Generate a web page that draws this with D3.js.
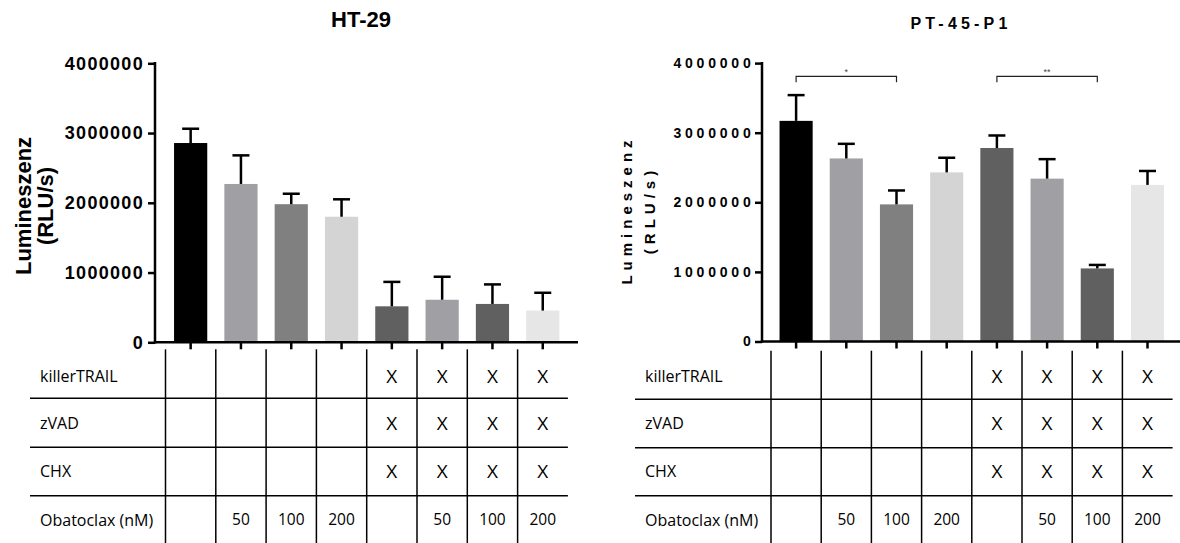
<!DOCTYPE html>
<html>
<head>
<meta charset="utf-8">
<script src="https://cdn.jsdelivr.net/npm/d3@7"></script>
<style>
  html, body { margin: 0; padding: 0; background: #fff; }
  svg { display: block; }
</style>
</head>
<body>
<svg id="chart" width="1180" height="543"></svg>
<script>
// ---------- data ----------
const categories = ["Kontrolle", "Obatoclax 50", "Obatoclax 100", "Obatoclax 200",
  "kTRAIL+zVAD+CHX", "kTRAIL+zVAD+CHX+Obatoclax 50", "kTRAIL+zVAD+CHX+Obatoclax 100", "kTRAIL+zVAD+CHX+Obatoclax 200"];
const barColors = ["#000000", "#a0a0a4", "#808080", "#d4d4d4", "#606060", "#a0a0a4", "#606060", "#e6e6e6"];

const ht29Means  = [2857000, 2270000, 1980000, 1800000, 516000, 610000, 550000, 455000];
const ht29Errors = [205000, 410000, 150000, 250000, 350000, 330000, 280000, 255000];

const ptMeans  = [3170000, 2630000, 1970000, 2430000, 2780000, 2340000, 1050000, 2250000];
const ptErrors = [370000, 210000, 200000, 210000, 180000, 280000, 50000, 200000];

const yTicks = [0, 1000000, 2000000, 3000000, 4000000];

const ptBrackets = [
  { from: 0, to: 2, label: "*",  level: 3810000 },
  { from: 4, to: 6, label: "**", level: 3810000 }
];

const rowLabels = ["killerTRAIL", "zVAD", "CHX", "Obatoclax (nM)"];
const killerTRAIL = [0, 0, 0, 0, 1, 1, 1, 1];
const zVAD        = [0, 0, 0, 0, 1, 1, 1, 1];
const CHX         = [0, 0, 0, 0, 1, 1, 1, 1];
const obatoclax   = ["", "50", "100", "200", "", "50", "100", "200"];

// ---------- layout ----------
const panels = [
  {
    title: "HT-29", means: ht29Means, errors: ht29Errors, brackets: [],
    axisX: 155, y0: 342.3, yTop: 63.3, colL: 165.5, colR: 567.9, axisEnd: 578,
    tableL: 30, tableTop: 349.3, rowSeps: [398.3, 447.3, 495.7], rowText: [376, 423, 471, 520],
    titleX: 361, titleY: 27, titleSize: 22, titleSpacing: 0,
    tickSize: 18, tickSpacing: 1.3, tickDx: 0,
    yTitleSize: 22, yTitleSpacing: 0, yTitleX1: 31, yTitleX2: 53, yTitleY: 206
  },
  {
    title: "PT-45-P1", means: ptMeans, errors: ptErrors, brackets: ptBrackets,
    axisX: 762, y0: 341.5, yTop: 63.1, colL: 771, colR: 1172.6, axisEnd: 1180,
    tableL: 635, tableTop: 350.7, rowSeps: [399.3, 447.7, 495.7], rowText: [376, 423, 471, 520],
    titleX: 961, titleY: 29, titleSize: 16, titleSpacing: 4.2,
    tickSize: 14, tickSpacing: 3.8, tickDx: 3.5,
    yTitleSize: 15, yTitleSpacing: 5, yTitleX1: 632, yTitleX2: 655, yTitleY: 210
  }
];

const svg = d3.select("#chart");
const boldFont = "'Liberation Sans', Arial, Helvetica, sans-serif";
const tableFont = "'Open Sans', 'Noto Sans', sans-serif";

panels.forEach(p => {
  const g = svg.append("g");
  const y = d3.scaleLinear().domain([0, 4000000]).range([p.y0, p.yTop]);
  const cols = d3.scaleBand().domain(d3.range(categories.length)).range([p.colL, p.colR]).padding(0);
  const x = d3.scaleBand().domain(d3.range(categories.length)).range([p.colL, p.colR])
    .paddingInner(0.34).paddingOuter(0.17);

  // title
  g.append("text")
    .attr("x", p.titleX).attr("y", p.titleY)
    .attr("text-anchor", "middle")
    .style("font-family", boldFont).style("font-weight", "bold")
    .style("font-size", p.titleSize + "px")
    .style("letter-spacing", p.titleSpacing + "px")
    .text(p.title);

  // bars
  g.selectAll("rect.bar").data(p.means).join("rect")
    .attr("class", "bar")
    .attr("x", (d, i) => x(i))
    .attr("width", x.bandwidth())
    .attr("y", d => y(d))
    .attr("height", d => y(0) - y(d))
    .attr("fill", (d, i) => barColors[i]);

  // error bars
  const eb = g.selectAll("g.err").data(p.means).join("g").attr("class", "err");
  eb.append("line")
    .attr("x1", (d, i) => x(i) + x.bandwidth() / 2)
    .attr("x2", (d, i) => x(i) + x.bandwidth() / 2)
    .attr("y1", d => y(d))
    .attr("y2", (d, i) => y(d + p.errors[i]))
    .attr("stroke", "#000").attr("stroke-width", 2.5);
  eb.append("line")
    .attr("x1", (d, i) => x(i) + x.bandwidth() / 2 - 8.5)
    .attr("x2", (d, i) => x(i) + x.bandwidth() / 2 + 8.5)
    .attr("y1", (d, i) => y(d + p.errors[i]))
    .attr("y2", (d, i) => y(d + p.errors[i]))
    .attr("stroke", "#000").attr("stroke-width", 2.5);

  // y axis
  const yAxis = d3.axisLeft(y).tickValues(yTicks).tickFormat(d3.format("d")).tickSize(7).tickPadding(4);
  const ya = g.append("g").attr("transform", `translate(${p.axisX},0)`).call(yAxis);
  ya.select(".domain").attr("stroke", "#000").attr("stroke-width", 2.5)
    .attr("d", `M0,${p.y0 + 1.2}V${p.yTop - 1.2}`);
  ya.selectAll(".tick line").attr("stroke", "#000").attr("stroke-width", 2.5);
  ya.selectAll(".tick text")
    .attr("dx", p.tickDx)
    .style("font-family", boldFont).style("font-weight", "bold")
    .style("font-size", p.tickSize + "px")
    .style("letter-spacing", p.tickSpacing + "px")
    .attr("fill", "#000");

  // x axis
  const xAxis = d3.axisBottom(x).tickSize(7).tickFormat("");
  const xa = g.append("g").attr("transform", `translate(0,${p.y0})`).call(xAxis);
  xa.select(".domain").attr("stroke", "#000").attr("stroke-width", 2.5)
    .attr("d", `M${p.axisX - 1.2},0H${p.axisEnd}`);
  xa.selectAll(".tick line").attr("stroke", "#000").attr("stroke-width", 2.5);

  // y title
  const yt = g.append("g").style("font-family", boldFont).style("font-weight", "bold")
    .style("font-size", p.yTitleSize + "px").style("letter-spacing", p.yTitleSpacing + "px");
  yt.append("text").attr("transform", `translate(${p.yTitleX1},${p.yTitleY}) rotate(-90)`)
    .attr("text-anchor", "middle").text("Lumineszenz");
  yt.append("text").attr("transform", `translate(${p.yTitleX2},${p.yTitleY}) rotate(-90)`)
    .attr("text-anchor", "middle").text("(RLU/s)");

  // significance brackets
  p.brackets.forEach(b => {
    const xa1 = x(b.from) + x.bandwidth() / 2, xb1 = x(b.to) + x.bandwidth() / 2;
    const yb = y(b.level);
    g.append("path")
      .attr("d", `M${xa1},${yb + 6}V${yb}H${xb1}V${yb + 6}`)
      .attr("fill", "none").attr("stroke", "#222").attr("stroke-width", 1.2);
    g.append("text").attr("x", (xa1 + xb1) / 2).attr("y", yb - 1)
      .attr("text-anchor", "middle")
      .style("font-family", boldFont).style("font-size", "9px").attr("fill", "#444")
      .text(b.label);
  });

  // table
  const tg = g.append("g");
  const tableBottom = 543;
  cols.domain().forEach(i => {
    tg.append("line").attr("x1", cols(i)).attr("x2", cols(i))
      .attr("y1", p.tableTop).attr("y2", tableBottom)
      .attr("stroke", "#000").attr("stroke-width", 1.5);
  });
  p.rowSeps.forEach(s => {
    tg.append("line").attr("x1", p.tableL).attr("x2", p.colR)
      .attr("y1", s).attr("y2", s)
      .attr("stroke", "#000").attr("stroke-width", 1.5);
  });
  tg.selectAll("text.rowlab").data(rowLabels).join("text").attr("class", "rowlab")
    .attr("x", p.tableL + 10).attr("y", (d, i) => p.rowText[i])
    .attr("dy", "0.35em")
    .style("font-family", tableFont).style("font-size", "16px")
    .text(d => d);
  const marks = [killerTRAIL, zVAD, CHX];
  marks.forEach((arr, r) => {
    tg.selectAll(null).data(arr).join("text")
      .attr("x", (d, i) => cols(i) + cols.bandwidth() / 2)
      .attr("y", p.rowText[r]).attr("dy", "0.36em")
      .attr("text-anchor", "middle")
      .style("font-family", tableFont).style("font-size", "19px")
      .text(d => d ? "X" : "");
  });
  tg.selectAll(null).data(obatoclax).join("text")
    .attr("x", (d, i) => cols(i) + cols.bandwidth() / 2)
    .attr("y", p.rowText[3]).attr("dy", "0.35em")
    .attr("text-anchor", "middle")
    .style("font-family", tableFont).style("font-size", "15.5px")
    .text(d => d);
});
</script>
</body>
</html>
